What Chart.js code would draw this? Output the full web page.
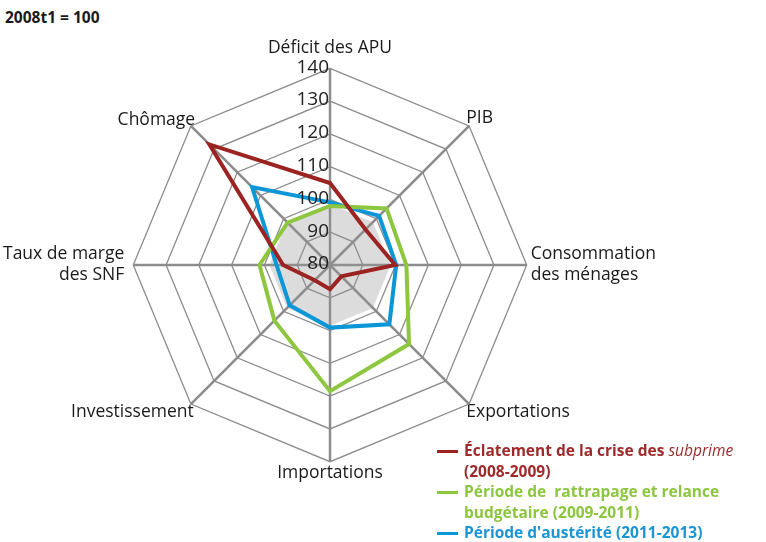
<!DOCTYPE html>
<html>
<head>
<meta charset="utf-8">
<script src="https://cdn.jsdelivr.net/npm/chart.js@4.4.0/dist/chart.umd.min.js"></script>
<style>
  body { margin: 0; background: #fff; font-family: "Open Sans", sans-serif; }
  #title { position: absolute; left: 5px; top: 6px; font-weight: bold; font-size: 15.5px; color: #1a1a1a; }
  #wrap { position: absolute; left: 3px; top: 33px; width: 654px; height: 456px; }
  #legend { position: absolute; left: 437px; top: 440px; font-weight: bold; font-size: 15.5px; line-height: 20.5px; }
  .item { position: relative; padding-left: 27px; }
  .item .mk { position: absolute; left: 0; top: 10px; width: 21px; height: 3px; }
  .item i { font-weight: normal; }
</style>
</head>
<body>
<div id="title">2008t1 = 100</div>
<div id="wrap"><canvas id="radar"></canvas></div>
<div id="legend">
  <div class="item" style="color:#9e2a2b"><span class="mk" style="background:#9b2423"></span>Éclatement de la crise des <i>subprime</i><br>(2008-2009)</div>
  <div class="item" style="color:#8cc63e"><span class="mk" style="background:#8dc63f"></span>Période de&nbsp; rattrapage et relance<br>budgétaire (2009-2011)</div>
  <div class="item" style="color:#1a96d4"><span class="mk" style="background:#0b96d7"></span>Période d'austérité (2011-2013)</div>
</div>
<script>
const axes = ['Déficit des APU', 'PIB', ['Consommation', 'des ménages'], 'Exportations',
  'Importations', 'Investissement', ['Taux de marge', 'des SNF'], 'Chômage'];
const crise = [105, 95.3, 99.9, 84.9, 87.4, 86.6, 94.3, 132];
const rattrapage = [98, 104.4, 103.3, 114.1, 118.5, 104, 101.5, 98.3];
const austerite = [99.1, 101.2, 100.2, 105.6, 99.1, 97.4, 96.3, 113.6];
const reference = [98.5, 98.5, 98.5, 98.5, 98.5, 98.5, 98.5, 98.5];
const tickValues = [80, 90, 100, 110, 120, 130, 140];
const labelPadding = [10, -4, 4, -4, 1, -4, 9, -6];

// zone grise (niveau de référence), posée sous les courbes
const zoneRef = {
  id: 'zoneRef',
  beforeDatasetsDraw(chart) {
    const r = chart.scales.r;
    const ctx = chart.ctx;
    ctx.save();
    ctx.fillStyle = 'rgba(150,150,150,0.33)';
    ctx.beginPath();
    reference.forEach((v, i) => {
      const p = r.getPointPositionForValue(i, v);
      if (i === 0) ctx.moveTo(p.x, p.y); else ctx.lineTo(p.x, p.y);
    });
    ctx.closePath();
    ctx.fill();
    ctx.restore();
  }
};

// labels des graduations, alignés à gauche de l'axe vertical
const tickLabels = {
  id: 'tickLabels',
  afterDatasetsDraw(chart) {
    const r = chart.scales.r;
    const ctx = chart.ctx;
    ctx.save();
    ctx.font = '19px "Open Sans"';
    ctx.fillStyle = '#222';
    ctx.textAlign = 'right';
    ctx.textBaseline = 'middle';
    tickValues.forEach(v => {
      const d = r.getDistanceFromCenterForValue(v);
      ctx.fillText(String(v), r.xCenter - 1, r.yCenter - d - 1);
    });
    ctx.restore();
  }
};

function serie(data, color) {
  return { data: data, borderColor: color, backgroundColor: 'transparent', fill: false,
    borderWidth: 4, pointRadius: 0, borderJoinStyle: 'miter', tension: 0 };
}

const ctx = document.getElementById('radar');
const chart = new Chart(ctx, {
  type: 'radar',
  data: {
    labels: axes,
    datasets: [
      serie(crise, '#9b2423'),
      serie(rattrapage, '#8dc63f'),
      serie(austerite, '#0b96d7')
    ]
  },
  options: {
    responsive: true,
    maintainAspectRatio: false,
    animation: false,
    layout: { padding: 0 },
    plugins: { legend: { display: false }, tooltip: { enabled: false } },
    scales: {
      r: {
        min: 80,
        max: 140,
        ticks: { stepSize: 10, display: false },
        grid: { color: '#8c8c8c', lineWidth: 1.3 },
        angleLines: { color: '#8c8c8c', lineWidth: 2.5 },
        pointLabels: {
          font: { size: 17.5, family: 'Open Sans' },
          color: '#1a1a1a',
          padding: c => labelPadding[c.index]
        }
      }
    }
  },
  plugins: [zoneRef, tickLabels]
});
</script>
</body>
</html>
